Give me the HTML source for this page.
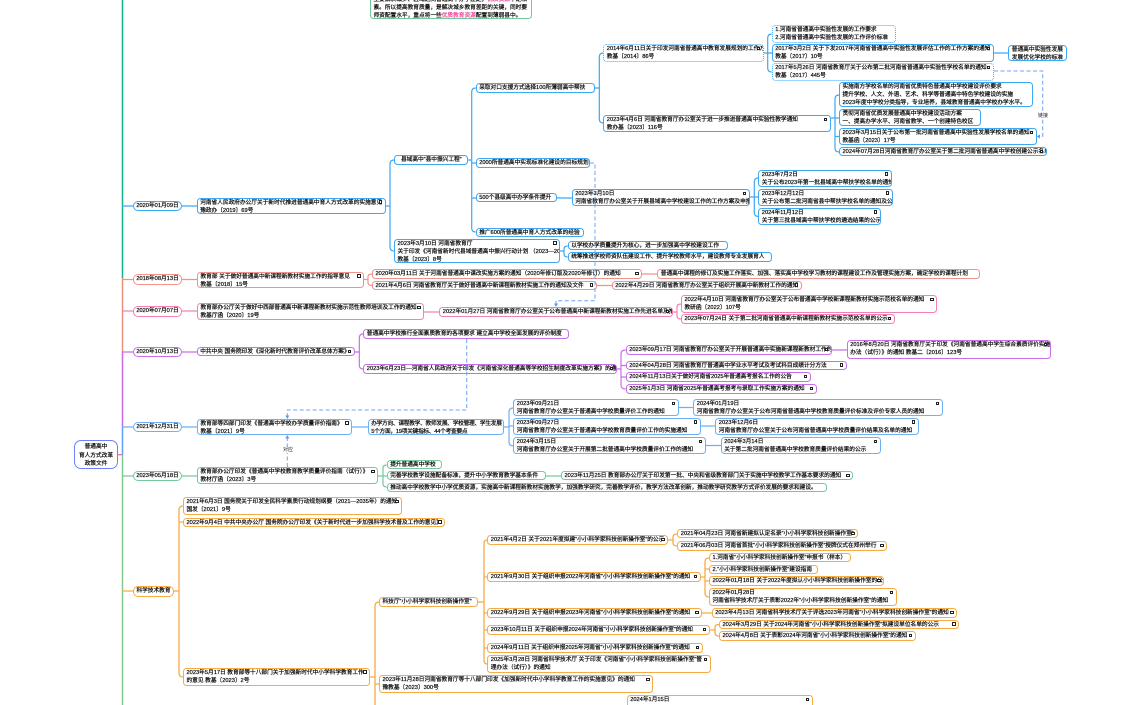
<!DOCTYPE html>
<html lang="zh"><head><meta charset="utf-8"><title>普通高中育人方式改革政策文件</title>
<style>
html,body{margin:0;padding:0;background:#fff}
#c{position:relative;width:1125px;height:705px;overflow:hidden;background:#fff;filter:blur(.3px)}
svg{position:absolute;left:0;top:0}
.n{position:absolute;box-sizing:border-box;border:1.1px solid;border-radius:3.5px;background:#fff;font:5.7px/8px "Liberation Sans","Noto Sans CJK SC",sans-serif;color:#000;-webkit-text-stroke:.18px #000;padding:0 2.5px;white-space:pre;overflow:hidden}
.n i{position:absolute;right:2.5px;top:1.5px;width:3.4px;height:3.4px;border:.8px solid #222;box-sizing:border-box;background:#fff}
.d{border-style:dotted}
.c{text-align:center}
.b{border-color:#3ea8f3}.s{border-color:#f2938a}.p{border-color:#f282b4}.u{border-color:#c76fe8}.l{border-color:#6cb0f6}.g{border-color:#73c99c}.o{border-color:#f7ab45}
.t{position:absolute;font:5px/6px "Liberation Sans","Noto Sans CJK SC",sans-serif;background:#fff;color:#222;padding:0 1px}
em{font-style:normal;color:#f0419a;-webkit-text-stroke:.18px #f0419a}
</style></head><body><div id="c">
<svg width="1125" height="705" fill="none" stroke-width="1.2">
<path d="M122.5 0V278" stroke="#12b28c" stroke-width="1.5"/>
<path d="M122.5 278V352" stroke="#e8907c" stroke-width="1.5"/>
<path d="M122.5 352V427" stroke="#c86be0" stroke-width="1.5"/>
<path d="M122.5 427V455" stroke="#5aa0f5" stroke-width="1.5"/>
<path d="M122.5 455V705" stroke="#86c98e" stroke-width="1.5"/>
<path d="M118 454.7H122" stroke="#f05fa8"/>
<g stroke="#3ea8f3">
<path d="M122 206H133M182 206H197M386 206H390M394 160Q390 160 390 164V247Q390 251 394 251M468 160H471.7M475.7 88Q471.7 88 471.7 92V228Q471.7 232 475.7 232M471.7 163H476M471.7 198H476M595 88H599.3M603.3 53Q599.3 53 599.3 57V119Q599.3 123 603.3 123M764 53H767.7M771.7 34Q767.7 34 767.7 38V68Q767.7 72 771.7 72M767.7 53H772M994 53H1008M831 118H835M839 95Q835 95 835 99V148Q835 152 839 152M835 118H839M835 136.5H839M557 198H572M750 197H754.3M758.3 178Q754.3 178 754.3 182V212.5Q754.3 216.5 758.3 216.5M754.3 197H758M560 251H564M567.7 246Q564 246 564 249V254Q564 257 567.7 257"/>
</g>
<g stroke="#f2938a"><path d="M122 279.5H133M182 279.5H197M364 279.5H368M372 274Q368 274 368 277V282.5Q368 285.5 372 285.5M642 274H657M597 285.5H612"/></g>
<g stroke="#f282b4"><path d="M122 311H133M182 311H197M424 312H439M673 312H677M681 304Q677 304 677 307V316Q677 319 681 319"/></g>
<g stroke="#c76fe8"><path d="M122 352H133M182 352H197M355 352H359.3M363 334Q359.3 334 359.3 338V365Q359.3 369 363 369M617 369H621M625.7 350Q621 350 621 354V385Q621 389 625.7 389M621 365.5H626M621 377H626M832 350H847"/></g>
<g stroke="#6cb0f6"><path d="M122 427H133M182 427H197M352 427H368M504 427H509M513.3 408Q509 408 509 412V442Q509 446 513.3 446M509 426H513M679 407.5H693M701 426H715M706 445.5H721"/></g>
<g stroke="#73c99c"><path d="M122 476H133M182 476H197M378 476H383M386.7 465Q383 465 383 468V484Q383 487 386.7 487M383 476H387M546 476H561"/></g>
<g stroke="#f7ab45" stroke-width="1.3"><path d="M122 591H133M174 591H179M183 506Q179 506 179 510V673Q179 677 183 677M179 522H183M370 677H375M379 602Q375 602 375 606V710M375 684H379M478 602H484M487 540Q484 540 484 544V660Q484 664 487 664M484 577H487M484 613H487M484 630H487M484 648H487M668 540H673M677 534Q673 534 673 537V543Q673 546 677 546M701 577H705M709 558Q705 558 705 562V593Q705 597 709 597M705 569H709M705 581H709M702 613H712M710 630H715M719 624.5Q715 624.5 715 627V633Q715 636 719 636"/></g>
</svg>

<div class="n c" style="left:74px;top:440px;width:44px;height:29px;border-color:#6f80fb;border-radius:7px;padding:2px 0 0;line-height:8.5px">普通高中
育人方式改革
政策文件</div>

<div class="n g" style="left:370px;top:-5.2px;width:161.5px;height:24.5px">主要解决城乡、区域之间普通高中办学差距，<em>优质资源</em>不足和
素。所以提高教育质量，是解决城乡教育差距的关键，同时要
师资配置水平，重点将一些<em>优质教育资源</em>配置到薄弱县中。</div>

<div class="n c b" style="left:133px;top:201px;width:49px;height:10.3px;border-radius:5px;padding:0">2020年01月09日</div>
<div class="n c s" style="left:133px;top:274px;width:49px;height:11px;border-radius:5px;padding:0">2018年08月13日</div>
<div class="n c p" style="left:133px;top:306px;width:49px;height:10.5px;border-radius:5px;padding:0">2020年07月07日</div>
<div class="n c u" style="left:133px;top:346.7px;width:49px;height:10.3px;border-radius:5px;padding:0">2020年10月13日</div>
<div class="n c l" style="left:133px;top:421.7px;width:49px;height:10.3px;border-radius:5px;padding:0">2021年12月31日</div>
<div class="n c g" style="left:133px;top:470.7px;width:49px;height:10.3px;border-radius:5px;padding:0">2023年05月18日</div>
<div class="n c o" style="left:133px;top:586px;width:41px;height:10.7px;border-radius:5px;padding:0">科学技术教育</div>

<div class="n b" style="left:196.7px;top:197.7px;width:189px;height:16.3px">河南省人民政府办公厅关于新时代推进普通高中育人方式改革的实施意见
豫政办〔2019〕69号<i></i></div>
<div class="n b" style="left:394.3px;top:155px;width:73.4px;height:10px">  县域高中“县中振兴工程”</div>
<div class="n b" style="left:394px;top:238.7px;width:166px;height:24.6px">2023年3月10日 河南省教育厅
关于印发《河南省新时代县域普通高中振兴行动计划 （2023—2025年）》
教基〔2023〕8号<i></i></div>
<div class="n b" style="left:475.7px;top:83.3px;width:119.3px;height:9.4px">采取对口支援方式选择100所薄弱高中帮扶</div>
<div class="n b" style="left:475.7px;top:158.3px;width:114.3px;height:9.4px">2000所普通高中实现标准化建设的目标规划</div>
<div class="n b" style="left:475.7px;top:193px;width:81px;height:9.3px">500个县级高中办学条件提升</div>
<div class="n b" style="left:475.7px;top:227.7px;width:108.6px;height:9.3px">推广600所普通高中育人方式改革的经验</div>
<div class="n b d" style="left:603.3px;top:44px;width:160.7px;height:17.7px">2014年6月11日关于印发河南省普通高中教育发展规划的工作方案的通知
教基〔2014〕86号<i></i></div>
<div class="n b" style="left:603.3px;top:115px;width:227.4px;height:16.7px">2023年4月6日 河南省教育厅办公室关于进一步推进普通高中实验性教学通知
教办基〔2023〕116号<i></i></div>
<div class="n b d" style="left:771.7px;top:25.3px;width:124.3px;height:17.4px">1.河南省普通高中实验性发展的工作要求
2.河南省普通高中实验性发展的工作评价标准</div>
<div class="n b" style="left:771.7px;top:44px;width:222.3px;height:17.7px">2017年3月2日 关于下发2017年河南省普通高中实验性发展评估工作的工作方案的通知
教基〔2017〕10号<i></i></div>
<div class="n b d" style="left:771.7px;top:63.3px;width:222.3px;height:17.4px">2017年5月26日 河南省教育厅关于公布第二批河南省普通高中实验性学校名单的通知
教基〔2017〕445号<i></i></div>
<div class="n b" style="left:1008.3px;top:45px;width:59px;height:16px">普通高中实验性发展
发展优化学校的标准</div>
<div class="n b" style="left:839px;top:82.3px;width:194.3px;height:25px">实施南方学校名单的河南省优质特色普通高中学校建设评价要求
提升学校、人文、外语、艺术、科学等普通高中特色学校建设的实施
2023年度中学校分类指导，专业培养，县域教育普通高中学校办学水平。</div>
<div class="n b" style="left:839px;top:109.3px;width:141.7px;height:16.7px">贯彻河南省优质发展普通高中学校建设活动方案
一、提高办学水平、河南省教学、一个创建特色校区</div>
<div class="n b" style="left:839px;top:128px;width:197.7px;height:17px">2023年3月15日关于公布第一批河南省普通高中实验性发展学校名单的通知
教基函〔2023〕17号<i></i></div>
<div class="n b" style="left:839px;top:147px;width:207.7px;height:9.3px">2024年07月28日河南省教育厅办公室关于第二批河南省普通高中学校创建公示名单<i></i></div>
<div class="n b" style="left:571.7px;top:189px;width:178.3px;height:17px">2023年3月10日
河南省教育厅办公室关于开展县域高中学校建设工作的工作方案及申报的通知<i></i></div>
<div class="n b" style="left:758.3px;top:169.7px;width:133.4px;height:17px">2023年7月2日
关于公布2023年第一批县域高中帮扶学校名单的通知公示<i></i></div>
<div class="n b" style="left:758.3px;top:188.7px;width:134.4px;height:17px">2023年12月12日
关于公布第二批河南省县中帮扶学校名单的通知及公示<i></i></div>
<div class="n b" style="left:758.3px;top:207.7px;width:122.4px;height:17.6px">2024年11月12日
关于第三批县域高中帮扶学校的遴选结果的公示<i></i></div>
<div class="n b" style="left:567.7px;top:241px;width:160px;height:9.3px">以学校办学质量提升为核心，进一步加强高中学校建设工作</div>
<div class="n b" style="left:567.7px;top:252.3px;width:204px;height:9.4px">统筹推进学校师资队伍建设工作、提升学校教师水平，建设教师专业发展育人</div>

<div class="n s" style="left:197px;top:271.7px;width:167px;height:16.3px">教育部 关于做好普通高中新课程新教材实施工作的指导意见
教基〔2018〕15号<i></i></div>
<div class="n s" style="left:372px;top:269.3px;width:270.3px;height:9.6px">2020年03月11日 关于河南省普通高中课改实施方案的通知（2020年修订版及2020年修订）的通知<i></i></div>
<div class="n s" style="left:372px;top:280.7px;width:224.7px;height:9.3px">2021年4月6日 河南省教育厅关于做好普通高中新课程新教材实施工作的通知及文件<i></i></div>
<div class="n s" style="left:657.3px;top:269.3px;width:322.7px;height:9.6px">普通高中课程的修订及实施工作落实、加强、落实高中学校学习教材的课程建设工作及管理实施方案，确定学校的课程计划</div>
<div class="n s" style="left:611.7px;top:280.7px;width:190px;height:9.3px">2022年4月29日 河南省教育厅办公室关于组织开展高中新教材工作的通知<i></i></div>

<div class="n p" style="left:197px;top:303px;width:227px;height:16.7px">教育部办公厅关于做好中西部普通高中新课程新教材实施示范性教师培训及工作的通知
教基厅函〔2020〕19号<i></i></div>
<div class="n p" style="left:439.3px;top:307px;width:233.4px;height:9.7px">2022年01月27日 河南省教育厅办公室关于公布普通高中新课程新教材实施工作先进名单及推荐示范校的通知<i></i></div>
<div class="n p" style="left:681px;top:295.3px;width:256.3px;height:17.4px">2022年4月10日 河南省教育厅办公室关于公布普通高中学校新课程新教材实施示范校名单的通知
教研函〔2022〕107号<i></i></div>
<div class="n p" style="left:681px;top:314.3px;width:213.7px;height:9.4px">2023年07月24日 关于第二批河南省普通高中新课程新教材实施示范校名单的公示<i></i></div>

<div class="n u" style="left:196.7px;top:347px;width:158.3px;height:9.3px">中共中央 国务院印发《深化新时代教育评价改革总体方案》<i></i></div>
<div class="n u" style="left:363.3px;top:329.3px;width:206px;height:9.4px">普通高中学校推行全面素质教育的各项要求 建立高中学校全面发展的评价制度</div>
<div class="n u" style="left:363.3px;top:364.3px;width:253.4px;height:9.4px">2023年6月23日—河南省人民政府关于印发《河南省深化普通高等学校招生制度改革实施方案》的通知<i></i></div>
<div class="n u" style="left:625.7px;top:345px;width:206px;height:10px">2023年09月17日 河南省教育厅办公室关于开展普通高中实施新课程新教材工作的通知<i></i></div>
<div class="n u" style="left:846.7px;top:340.3px;width:204.3px;height:18.4px">2016年8月20日 河南省教育厅关于印发《河南省普通高中学生综合素质评价实施
办法（试行）》的通知 教基二〔2016〕123号<i></i></div>
<div class="n u" style="left:625.7px;top:360.7px;width:221px;height:9.3px">2024年04月28日 河南省教育厅普通高中学业水平考试及考试科目成绩计分方法<i></i></div>
<div class="n u" style="left:625.7px;top:372px;width:185px;height:9.7px">2024年11月13日关于做好河南省2025年普通高考报名工作的公告<i></i></div>
<div class="n u" style="left:625.7px;top:384px;width:191px;height:9.7px">2025年1月3日 河南省2025年普通高考报考与录取工作实施方案的通知<i></i></div>

<div class="n l" style="left:197px;top:418.7px;width:155px;height:16.6px">教育部等四部门印发《普通高中学校办学质量评价指南》
教基〔2021〕9号<i></i></div>
<div class="n l" style="left:367.7px;top:419px;width:136.6px;height:16.3px;letter-spacing:-.25px">办学方向、课程教学、教师发展、学校管理、学生发展
5个方面，19项关键指标、44个考查要点</div>
<div class="n l" style="left:513.3px;top:399px;width:165.7px;height:17.3px">2023年09月21日
河南省教育厅办公室关于普通高中学校质量评价工作的通知<i></i></div>
<div class="n l" style="left:693.3px;top:399px;width:249.4px;height:17.3px">2024年01月19日
河南省教育厅办公室关于公布河南省普通高中学校教育质量评价标准及评价专家人员的通知<i></i></div>
<div class="n l" style="left:513.3px;top:417.7px;width:187.4px;height:17.3px">2023年09月27日
河南省教育厅办公室关于普通高中学校教育质量评价工作的实施通知<i></i></div>
<div class="n l" style="left:715.3px;top:417.7px;width:203.7px;height:17.3px">2023年12月6日
河南省教育厅办公室关于公布河南省普通高中学校质量评价结果及名单的通知<i></i></div>
<div class="n l" style="left:513.3px;top:437px;width:192.7px;height:17.3px">2024年3月15日
河南省教育厅办公室关于开展第二批普通高中学校质量评价工作的通知<i></i></div>
<div class="n l" style="left:720.7px;top:437px;width:160px;height:17.3px">2024年3月14日
关于第二批河南省普通高中学校教育质量评价结果的公示<i></i></div>

<div class="n g" style="left:197px;top:467px;width:181.3px;height:17px">教育部办公厅印发《普通高中学校教育教学质量评价指南（试行）》
教材厅函〔2023〕3号<i></i></div>
<div class="n g" style="left:386.7px;top:460.3px;width:55.6px;height:9px">提升普通高中学校</div>
<div class="n g" style="left:386.7px;top:471.3px;width:159.3px;height:9px">完善学校教学设施配备标准，提升中小学教育教学基本条件</div>
<div class="n g" style="left:561px;top:471.3px;width:292.3px;height:9px">2023年11月25日 教育部办公厅关于印发第一批、中央和省级教育部门关于实施中学校教学工作基本要求的通知<i></i></div>
<div class="n g" style="left:386.7px;top:482.7px;width:440.6px;height:9px">推动高中学校教学中小学优质资源，实施高中新课程新教材实施教学，加强教学研究，完善教学评价，教学方法改革创新，推动教学研究教学方式评价发展的要求和建设。</div>

<div class="n o" style="left:183px;top:497px;width:219px;height:18px">2021年6月3日 国务院关于印发全民科学素质行动规划纲要（2021—2035年）的通知
国发〔2021〕9号<i></i></div>
<div class="n o" style="left:183px;top:517.7px;width:262px;height:9px">2022年9月4日 中共中央办公厅 国务院办公厅印发《关于新时代进一步加强科学技术普及工作的意见》<i></i></div>
<div class="n o" style="left:183px;top:667.7px;width:187px;height:18px">2023年5月17日 教育部等十八部门关于加强新时代中小学科学教育工作
的意见 教基〔2023〕2号<i></i></div>
<div class="n o" style="left:379px;top:597.3px;width:99.3px;height:9.4px">科技厅“小小科学家科技创新操作室”</div>
<div class="n o" style="left:379px;top:675px;width:274px;height:17.7px">2023年11月28日河南省教育厅等十八部门印发《加强新时代中小学科学教育工作的实施意见》的通知
豫教基〔2023〕300号<i></i></div>
<div class="n o" style="left:626.7px;top:695px;width:186.3px;height:30px">2024年1月15日<i></i></div>
<div class="n o" style="left:487.3px;top:535px;width:181px;height:10px">2021年4月2日 关于2021年度拟建“小小科学家科技创新操作室”的公示<i></i></div>
<div class="n o" style="left:677.3px;top:529.3px;width:181px;height:9px">2021年04月23日 河南省新建拟认定名录“小小科学家科技创新操作室”<i></i></div>
<div class="n o" style="left:677.3px;top:541px;width:210px;height:9.7px">2021年06月03日 河南省首批“小小科学家科技创新操作室”授牌仪式在郑州举行<i></i></div>
<div class="n o" style="left:487.3px;top:572.3px;width:213.4px;height:9.7px">2021年9月30日 关于组织申报2022年河南省“小小科学家科技创新操作室”的通知<i></i></div>
<div class="n o" style="left:709px;top:553px;width:141.7px;height:9.3px">1.河南省“小小科学家科技创新操作室”申报书（样本）</div>
<div class="n o" style="left:709px;top:564.7px;width:108.7px;height:9.3px">2.“小小科学家科技创新操作室”建设指南</div>
<div class="n o" style="left:709px;top:576.3px;width:175.3px;height:9.4px">2022年01月18日 关于2022年度拟认小小科学家科技创新操作室的公示<i></i></div>
<div class="n o" style="left:709px;top:588.3px;width:187.7px;height:17.4px">2022年01月28日
河南省科学技术厅关于表彰2022年“小小科学家科技创新操作室”的通知<i></i></div>
<div class="n o" style="left:487.3px;top:608px;width:215px;height:9.7px">2022年9月29日 关于组织申报2023年河南省“小小科学家科技创新操作室”的通知<i></i></div>
<div class="n o" style="left:711.7px;top:608px;width:245.6px;height:9.7px">2023年4月13日 河南省科学技术厅关于评选2023年河南省“小小科学家科技创新操作室”的通知<i></i></div>
<div class="n o" style="left:487.3px;top:625.3px;width:222.7px;height:9.7px">2023年10月11日 关于组织申报2024年河南省“小小科学家科技创新操作室”的通知<i></i></div>
<div class="n o" style="left:719px;top:619.7px;width:240.3px;height:9.6px">2024年3月29日 关于2024年河南省“小小科学家科技创新操作室”拟建设单位名单的公示<i></i></div>
<div class="n o" style="left:719px;top:631.3px;width:196.7px;height:9.4px">2024年4月8日 关于表彰2024年河南省“小小科学家科技创新操作室”的通知<i></i></div>
<div class="n o" style="left:487.3px;top:643.3px;width:215.4px;height:9.7px">2024年9月11日 关于组织申报2025年河南省“小小科学家科技创新操作室”的通知<i></i></div>
<div class="n o" style="left:487.3px;top:655px;width:223.4px;height:17.7px">2025年3月28日 河南省科学技术厅 关于印发《河南省“小小科学家科技创新操作室”管
理办法（试行）》的通知<i></i></div>

<svg width="1125" height="705" fill="none">
<g stroke="#6ea4f5" stroke-width="1" stroke-dasharray="4 2.5">
<path d="M994 71H1042.7V136.5H1040"/>
<path d="M590 163H595V300.7H556V304"/>
<path d="M466.7 339V410H287.3V416"/>
<path d="M287.3 467V438"/>
</g>
<g fill="#5b97f3"><path d="M1036.7 136.5L1040 134.5V138.5Z"/><path d="M556 307L554 303.5H558Z"/><path d="M287.3 419L285.3 415.5H289.3Z"/><path d="M287.3 435L285.3 438.5H289.3Z"/></g>
</svg>
<div class="t" style="left:1037px;top:113px">链接</div>
<div class="t" style="left:282px;top:447px">对应</div>
</div></body></html>
